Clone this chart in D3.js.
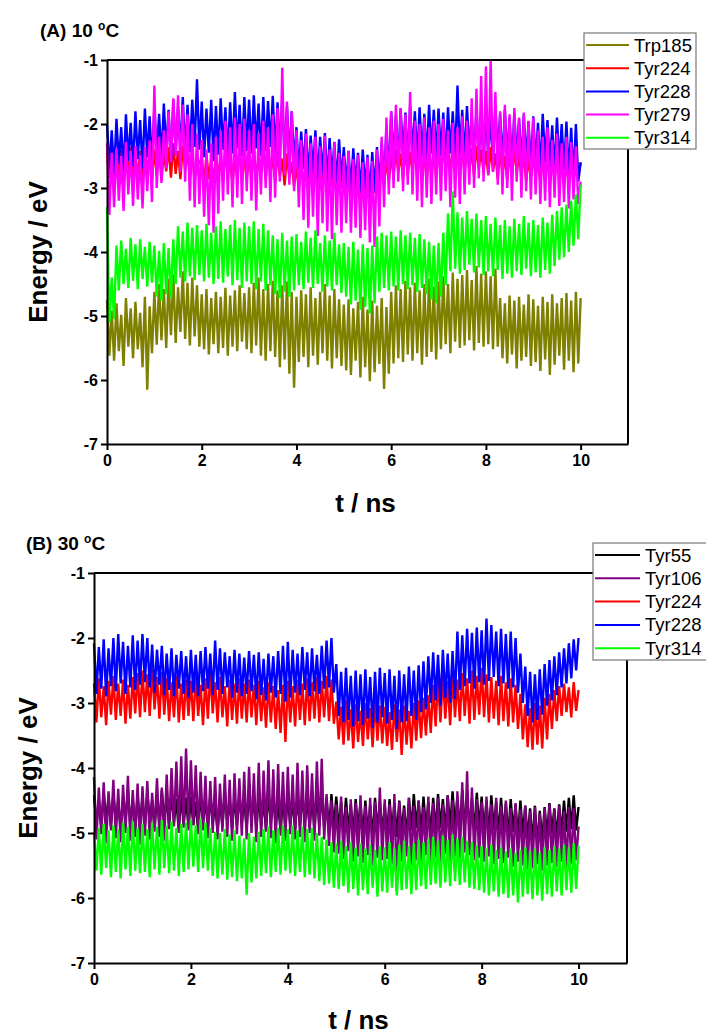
<!DOCTYPE html>
<html>
<head>
<meta charset="utf-8">
<script src="https://cdn.jsdelivr.net/npm/d3@7"></script>
<style>
  body { margin: 0; background: #fff; }
  svg text { font-family: "Liberation Sans", Arial, sans-serif; }
</style>
</head>
<body>
<svg id="chart" width="706" height="1034"></svg>
<script>
// Sampling interval of the trajectories (ns); each series holds 201 samples, 0–10 ns
const timeStep = 0.05;
const xTicks = [0, 2, 4, 6, 8, 10];
const yTicks = [-1, -2, -3, -4, -5, -6, -7];

// ---- (A) 10 °C ----
const namesA = ["Trp185", "Tyr224", "Tyr228", "Tyr279", "Tyr314"];
const colorsA = ["#808000", "#ff0000", "#0000ff", "#ff00ff", "#00ff00"];

const trp185A = [
  -4.75,-5.62,-4.92,-5.70,-4.80,-5.55,-4.98,-5.78,-4.72,-5.48,-4.88,-5.66,-4.78,-5.52,-4.95,-5.80,-4.70,-6.15,-4.85,-5.58,
  -4.62,-5.45,-4.50,-5.38,-4.58,-5.50,-4.42,-5.30,-4.35,-5.42,-4.55,-5.25,-4.30,-5.36,-4.48,-5.46,-4.40,-5.32,-4.52,-5.48,
  -4.66,-5.52,-4.58,-5.60,-4.72,-5.44,-4.62,-5.58,-4.70,-5.50,-4.56,-5.62,-4.68,-5.48,-4.60,-5.55,-4.52,-5.40,-4.64,-5.52,
  -4.55,-5.58,-4.48,-5.46,-4.40,-5.62,-4.58,-5.70,-4.50,-5.55,-4.45,-5.64,-4.60,-5.80,-4.52,-5.68,-4.46,-5.90,-4.62,-6.12,
  -4.70,-5.72,-4.60,-5.64,-4.66,-5.80,-4.55,-5.62,-4.72,-5.76,-4.62,-5.58,-4.50,-5.70,-4.68,-5.82,-4.58,-5.66,-4.74,-5.78,
  -4.82,-5.85,-4.74,-5.92,-4.88,-5.70,-4.78,-5.96,-4.70,-5.80,-4.90,-6.02,-4.76,-5.88,-4.84,-5.75,-4.72,-6.14,-4.86,-5.90,
  -4.62,-5.74,-4.52,-5.66,-4.58,-5.72,-4.45,-5.60,-4.55,-5.70,-4.48,-5.58,-4.60,-5.76,-4.50,-5.64,-4.42,-5.56,-4.54,-5.68,
  -4.46,-5.52,-4.38,-5.44,-4.50,-5.58,-4.32,-5.40,-4.42,-5.50,-4.36,-5.46,-4.28,-5.38,-4.44,-5.54,-4.22,-5.42,-4.34,-5.48,
  -4.30,-5.44,-4.38,-5.52,-4.26,-5.48,-4.72,-5.66,-4.80,-5.74,-4.68,-5.60,-4.76,-5.82,-4.70,-5.70,-4.82,-5.64,-4.66,-5.78,
  -4.74,-5.72,-4.84,-5.86,-4.70,-5.68,-4.78,-5.92,-4.66,-5.76,-4.80,-5.62,-4.72,-5.84,-4.64,-5.70,-4.76,-5.88,-4.62,-5.74,
  -4.72
];
const tyr224A = [
  -2.45,-2.85,-2.38,-2.92,-2.50,-2.80,-2.40,-2.95,-2.48,-2.78,-2.36,-2.88,-2.52,-2.82,-2.42,-2.90,-2.46,-2.76,-2.38,-2.86,
  -2.40,-2.80,-2.32,-2.88,-2.44,-2.74,-2.36,-2.84,-2.30,-2.78,-2.42,-2.86,-2.34,-2.70,-2.46,-2.82,-2.38,-2.90,-2.50,-2.62,
  -2.55,-2.95,-2.48,-2.86,-2.58,-2.92,-2.45,-2.84,-2.52,-2.90,-2.42,-2.80,-2.56,-2.94,-2.48,-2.86,-2.40,-2.78,-2.54,-2.88,
  -2.46,-2.84,-2.38,-2.90,-2.50,-2.78,-2.40,-2.86,-2.36,-2.80,-2.48,-2.92,-2.42,-2.82,-2.54,-2.96,-2.46,-2.84,-2.60,-2.98,
  -2.65,-3.02,-2.58,-2.94,-2.68,-3.06,-2.60,-2.96,-2.72,-3.00,-2.62,-2.92,-2.70,-3.04,-2.64,-2.98,-2.76,-3.08,-2.68,-3.00,
  -2.74,-3.06,-2.80,-3.12,-2.72,-3.04,-2.84,-3.16,-2.78,-3.10,-2.86,-3.18,-2.76,-3.08,-2.70,-3.00,-2.62,-2.94,-2.56,-2.90,
  -2.48,-2.82,-2.40,-2.76,-2.46,-2.86,-2.38,-2.80,-2.44,-2.74,-2.36,-2.84,-2.42,-2.78,-2.50,-2.88,-2.40,-2.80,-2.46,-2.84,
  -2.38,-2.76,-2.32,-2.70,-2.40,-2.80,-2.34,-2.72,-2.28,-2.68,-2.36,-2.78,-2.30,-2.74,-2.38,-2.82,-2.34,-2.70,-2.40,-2.76,
  -2.42,-2.80,-2.36,-2.74,-2.46,-2.86,-2.40,-2.78,-2.50,-2.88,-2.44,-2.82,-2.38,-2.76,-2.48,-2.84,-2.42,-2.90,-2.52,-2.86,
  -2.46,-2.84,-2.54,-2.92,-2.48,-2.80,-2.56,-2.94,-2.50,-2.86,-2.44,-2.80,-2.52,-2.90,-2.58,-2.96,-2.50,-2.88,-2.40,-2.82,
  -2.60
];
const tyr228A = [
  -2.00,-2.70,-2.10,-2.78,-1.92,-2.62,-2.05,-2.74,-1.85,-2.58,-1.98,-2.66,-1.80,-2.55,-1.94,-2.70,-1.76,-2.52,-1.88,-2.64,
  -1.72,-2.48,-1.84,-2.56,-1.68,-2.42,-1.78,-2.60,-1.62,-2.46,-1.74,-2.38,-1.58,-2.50,-1.70,-2.44,-1.62,-2.36,-1.30,-2.40,
  -1.65,-2.52,-1.76,-2.45,-1.62,-2.58,-1.72,-2.48,-1.60,-2.40,-1.74,-2.54,-1.66,-2.46,-1.50,-2.38,-1.70,-2.50,-1.58,-2.42,
  -1.62,-2.46,-1.55,-2.38,-1.68,-2.50,-1.58,-2.42,-1.64,-2.36,-1.56,-2.48,-1.66,-2.40,-1.60,-2.52,-1.72,-2.56,-1.80,-2.62,
  -2.05,-2.78,-2.12,-2.70,-2.08,-2.84,-2.18,-2.76,-2.10,-2.88,-2.20,-2.80,-2.14,-2.92,-2.22,-2.86,-2.28,-2.96,-2.24,-2.90,
  -2.36,-2.98,-2.42,-3.04,-2.38,-2.96,-2.45,-3.08,-2.40,-3.02,-2.48,-3.14,-2.44,-3.06,-2.36,-2.98,-2.28,-2.92,-2.05,-2.80,
  -1.80,-2.56,-1.86,-2.62,-1.76,-2.50,-1.82,-2.58,-1.72,-2.48,-1.80,-2.60,-1.74,-2.52,-1.84,-2.56,-1.70,-2.46,-1.78,-2.54,
  -1.76,-2.50,-1.82,-2.58,-1.74,-2.46,-1.80,-2.54,-1.40,-2.48,-1.78,-2.56,-1.72,-2.44,-1.84,-2.60,-1.76,-2.50,-1.86,-2.62,
  -1.80,-2.52,-1.88,-2.58,-1.76,-2.48,-1.84,-2.62,-1.78,-2.54,-1.90,-2.66,-1.82,-2.56,-1.92,-2.64,-1.86,-2.58,-1.96,-2.70,
  -1.88,-2.62,-1.98,-2.72,-1.84,-2.60,-1.94,-2.68,-2.02,-2.76,-1.90,-2.64,-2.00,-2.74,-1.96,-2.80,-2.06,-2.86,-2.00,-2.90,
  -2.60
];
const tyr279A = [
  -2.30,-3.42,-2.45,-3.30,-2.38,-3.20,-2.50,-3.36,-2.28,-3.10,-2.42,-3.28,-2.34,-3.18,-2.48,-3.32,-2.36,-3.05,-2.26,-3.22,
  -1.40,-3.00,-2.20,-2.92,-2.10,-2.70,-1.80,-2.60,-1.60,-2.50,-1.55,-2.75,-1.70,-2.90,-1.85,-3.20,-2.00,-3.30,-2.15,-3.25,
  -2.25,-3.45,-2.40,-3.58,-2.30,-3.70,-2.20,-3.40,-2.10,-3.20,-1.95,-3.10,-2.05,-3.30,-1.90,-3.15,-2.00,-3.25,-1.92,-3.05,
  -2.10,-3.20,-2.00,-3.35,-2.15,-3.10,-1.95,-3.00,-2.05,-3.22,-1.85,-3.15,-1.75,-2.90,-1.12,-2.80,-1.65,-2.95,-1.80,-3.05,
  -2.10,-3.30,-2.25,-3.50,-2.15,-3.62,-2.30,-3.45,-2.20,-3.75,-2.35,-3.55,-2.18,-3.68,-2.40,-3.80,-2.28,-3.58,-2.45,-3.70,
  -2.50,-3.55,-2.42,-3.70,-2.55,-3.62,-2.48,-3.78,-2.60,-3.66,-2.52,-3.85,-2.58,-3.92,-2.40,-3.60,-2.20,-3.30,-1.90,-3.10,
  -1.80,-3.00,-1.70,-2.90,-1.75,-3.05,-1.85,-2.95,-1.50,-3.10,-1.95,-3.20,-2.00,-3.30,-1.90,-3.15,-2.05,-3.25,-1.95,-3.10,
  -2.00,-3.20,-1.92,-3.05,-2.10,-3.30,-1.98,-3.15,-2.05,-3.25,-1.88,-3.10,-1.95,-2.95,-1.60,-3.00,-1.45,-2.85,-1.25,-2.90,
  -1.10,-2.80,-1.00,-2.75,-1.50,-2.95,-1.80,-3.10,-1.70,-3.00,-1.85,-3.20,-1.75,-2.90,-1.90,-3.15,-1.82,-3.05,-1.95,-3.18,
  -1.90,-3.10,-2.10,-3.25,-2.20,-3.20,-2.05,-3.30,-2.25,-3.15,-2.15,-3.28,-2.30,-3.22,-2.20,-3.32,-2.28,-3.18,-2.35,-3.25,
  -2.90
];
const tyr314A = [
  -3.30,-5.10,-4.40,-5.05,-3.90,-4.60,-3.82,-4.50,-3.95,-4.56,-3.78,-4.45,-3.88,-4.58,-3.80,-4.42,-3.92,-4.54,-3.84,-4.48,
  -3.90,-4.70,-3.98,-4.76,-3.86,-4.66,-3.94,-4.72,-3.80,-4.50,-3.60,-4.40,-3.68,-4.46,-3.54,-4.38,-3.62,-4.44,-3.58,-4.36,
  -3.66,-4.46,-3.56,-4.40,-3.70,-4.50,-3.60,-4.42,-3.52,-4.48,-3.64,-4.38,-3.58,-4.52,-3.50,-4.44,-3.62,-4.56,-3.54,-4.46,
  -3.60,-4.50,-3.52,-4.58,-3.64,-4.46,-3.56,-4.60,-3.66,-4.52,-3.74,-4.66,-3.80,-4.72,-3.70,-4.62,-3.82,-4.70,-3.76,-4.60,
  -3.72,-4.52,-3.84,-4.58,-3.68,-4.48,-3.78,-4.56,-3.66,-4.50,-3.86,-4.62,-3.74,-4.54,-3.82,-4.60,-3.70,-4.52,-3.88,-4.64,
  -3.86,-4.70,-3.92,-4.82,-3.84,-4.76,-3.96,-4.90,-3.88,-4.86,-3.94,-4.96,-3.90,-4.80,-3.76,-4.62,-3.70,-4.56,-3.74,-4.60,
  -3.68,-4.54,-3.76,-4.60,-3.66,-4.50,-3.74,-4.58,-3.70,-4.52,-3.78,-4.62,-3.72,-4.56,-3.80,-4.66,-3.84,-4.74,-3.90,-4.80,
  -3.86,-4.70,-3.70,-4.52,-3.40,-4.30,-3.05,-4.26,-3.38,-4.34,-3.46,-4.28,-3.36,-4.20,-3.48,-4.32,-3.40,-4.24,-3.50,-4.36,
  -3.44,-4.30,-3.56,-4.38,-3.46,-4.28,-3.58,-4.42,-3.50,-4.34,-3.60,-4.40,-3.48,-4.30,-3.56,-4.36,-3.44,-4.26,-3.54,-4.38,
  -3.50,-4.32,-3.58,-4.40,-3.46,-4.28,-3.54,-4.34,-3.42,-4.22,-3.36,-4.12,-3.30,-4.08,-3.26,-4.00,-3.20,-3.90,-3.10,-3.80,
  -2.95
];

// ---- (B) 30 °C ----
const namesB = ["Tyr55", "Tyr106", "Tyr224", "Tyr228", "Tyr314"];
const colorsB = ["#000000", "#800080", "#ff0000", "#0000ff", "#00ff00"];

const tyr55B = [
  -4.42,-4.86,-4.50,-4.92,-4.38,-4.80,-4.46,-4.90,-4.40,-4.84,-4.52,-4.94,-4.44,-4.82,-4.36,-4.88,-4.48,-4.96,-4.42,-4.86,
  -4.46,-4.90,-4.38,-4.82,-4.50,-4.94,-4.40,-4.86,-4.34,-4.80,-4.44,-4.92,-4.36,-4.84,-4.48,-4.98,-4.40,-4.88,-4.46,-4.92,
  -4.44,-4.88,-4.52,-4.96,-4.40,-4.84,-4.48,-4.92,-4.42,-4.86,-4.54,-4.98,-4.46,-4.90,-4.38,-4.84,-4.50,-4.94,-4.44,-4.88,
  -4.40,-4.86,-4.48,-4.92,-4.36,-4.82,-4.46,-4.94,-4.42,-4.88,-4.50,-4.96,-4.38,-4.84,-4.44,-4.90,-4.52,-4.98,-4.46,-4.92,
  -4.42,-4.88,-4.50,-4.94,-4.46,-4.90,-4.40,-4.86,-4.48,-4.92,-4.44,-4.96,-4.36,-4.90,-4.38,-4.92,-4.46,-4.98,-4.40,-4.94,
  -4.44,-4.96,-4.52,-5.02,-4.46,-4.98,-4.56,-5.04,-4.48,-4.94,-4.54,-5.06,-4.50,-5.00,-4.58,-5.08,-4.46,-4.98,-4.52,-5.02,
  -4.56,-5.04,-4.48,-4.98,-4.54,-5.06,-4.50,-5.00,-4.58,-5.08,-4.46,-4.96,-4.40,-4.92,-4.50,-5.02,-4.44,-4.96,-4.52,-5.04,
  -4.46,-4.98,-4.40,-4.92,-4.48,-5.00,-4.42,-4.94,-4.36,-4.90,-4.44,-4.98,-4.34,-4.92,-4.40,-4.96,-4.46,-5.00,-4.38,-4.94,
  -4.44,-4.98,-4.50,-5.04,-4.42,-4.96,-4.52,-5.02,-4.46,-5.00,-4.54,-5.06,-4.48,-4.98,-4.56,-5.08,-4.50,-5.04,-4.58,-5.10,
  -4.62,-5.16,-4.58,-5.20,-4.66,-5.12,-4.60,-5.06,-4.54,-5.00,-4.62,-5.08,-4.56,-5.02,-4.50,-4.98,-4.46,-4.94,-4.42,-4.96,
  -4.60
];
const tyr106B = [
  -4.14,-5.10,-4.30,-5.02,-4.22,-5.16,-4.36,-4.96,-4.18,-5.08,-4.32,-5.14,-4.26,-5.00,-4.12,-5.12,-4.34,-5.06,-4.24,-5.18,
  -4.28,-5.04,-4.20,-5.10,-4.38,-4.98,-4.16,-5.06,-4.30,-5.12,-4.10,-4.94,-4.00,-4.90,-3.90,-5.00,-3.82,-4.92,-3.70,-4.96,
  -3.88,-4.88,-3.96,-5.02,-4.06,-4.96,-4.12,-5.08,-4.20,-5.00,-4.14,-5.10,-4.24,-4.98,-4.10,-5.06,-4.18,-5.12,-4.08,-5.02,
  -4.16,-5.04,-4.06,-5.10,-3.98,-5.00,-4.08,-5.14,-3.92,-5.06,-4.04,-4.98,-3.88,-5.08,-4.02,-5.16,-3.94,-5.04,-4.06,-5.12,
  -3.98,-5.02,-4.10,-5.10,-3.92,-5.06,-4.04,-5.14,-3.96,-5.00,-4.08,-5.12,-3.90,-5.04,-3.86,-5.10,-4.40,-5.20,-4.50,-5.30,
  -4.56,-5.32,-4.44,-5.40,-4.60,-5.28,-4.48,-5.44,-4.54,-5.36,-4.42,-5.46,-4.58,-5.34,-4.46,-5.50,-4.52,-5.38,-4.30,-5.42,
  -4.48,-5.40,-4.56,-5.48,-4.40,-5.90,-4.52,-5.44,-4.62,-5.36,-4.46,-5.50,-4.58,-5.42,-4.50,-5.46,-4.60,-5.34,-4.44,-5.48,
  -4.54,-5.38,-4.46,-5.44,-4.56,-5.32,-4.42,-5.46,-4.50,-5.36,-4.36,-5.40,-4.22,-5.30,-4.05,-5.34,-4.30,-5.42,-4.48,-5.38,
  -4.52,-5.44,-4.44,-5.36,-4.56,-5.48,-4.46,-5.40,-4.58,-5.46,-4.50,-5.38,-4.62,-5.52,-4.54,-5.44,-4.64,-5.50,-4.58,-5.56,
  -4.66,-5.54,-4.60,-5.48,-4.70,-5.58,-4.62,-5.50,-4.56,-5.46,-4.64,-5.52,-4.58,-5.44,-4.66,-5.56,-4.60,-5.48,-4.62,-5.42,
  -4.90
];
const tyr224B = [
  -2.70,-3.30,-2.62,-3.22,-2.74,-3.34,-2.66,-3.18,-2.58,-3.26,-2.70,-3.20,-2.64,-3.32,-2.72,-3.24,-2.60,-3.16,-2.54,-3.22,
  -2.50,-3.14,-2.56,-3.20,-2.48,-3.10,-2.60,-3.24,-2.52,-3.18,-2.62,-3.28,-2.68,-3.22,-2.58,-3.30,-2.70,-3.26,-2.64,-3.20,
  -2.66,-3.28,-2.58,-3.20,-2.72,-3.34,-2.62,-3.24,-2.52,-3.16,-2.68,-3.30,-2.60,-3.22,-2.74,-3.36,-2.64,-3.26,-2.70,-3.32,
  -2.62,-3.24,-2.70,-3.30,-2.64,-3.22,-2.72,-3.34,-2.66,-3.28,-2.76,-3.38,-2.68,-3.30,-2.74,-3.40,-2.80,-3.46,-2.72,-3.60,
  -2.66,-3.30,-2.74,-3.36,-2.64,-3.26,-2.70,-3.34,-2.62,-3.28,-2.68,-3.24,-2.60,-3.30,-2.66,-3.22,-2.58,-3.28,-2.64,-3.32,
  -2.98,-3.56,-3.06,-3.64,-2.96,-3.58,-3.10,-3.70,-3.02,-3.60,-3.12,-3.66,-3.00,-3.56,-3.08,-3.68,-2.94,-3.58,-3.04,-3.62,
  -3.06,-3.66,-3.14,-3.72,-3.02,-3.60,-3.10,-3.80,-3.04,-3.64,-3.12,-3.70,-3.00,-3.58,-2.96,-3.54,-2.92,-3.50,-2.88,-3.46,
  -2.72,-3.36,-2.62,-3.30,-2.58,-3.24,-2.66,-3.34,-2.56,-3.22,-2.64,-3.28,-2.54,-3.20,-2.62,-3.32,-2.50,-3.26,-2.58,-3.18,
  -2.46,-3.22,-2.56,-3.30,-2.60,-3.24,-2.66,-3.34,-2.58,-3.28,-2.68,-3.36,-2.62,-3.30,-2.72,-3.40,-2.86,-3.56,-3.02,-3.68,
  -3.08,-3.72,-3.00,-3.64,-3.04,-3.70,-2.92,-3.56,-2.86,-3.40,-2.80,-3.28,-2.74,-3.20,-2.70,-3.14,-2.76,-3.22,-2.68,-3.12,
  -2.80
];
const tyr228B = [
  -2.08,-2.86,-2.14,-2.78,-2.02,-2.90,-2.16,-2.74,-2.00,-2.82,-1.94,-2.70,-2.06,-2.86,-2.12,-2.76,-1.96,-2.80,-2.04,-2.72,
  -1.94,-2.68,-2.00,-2.76,-2.10,-2.84,-2.18,-2.72,-2.12,-2.88,-2.24,-2.80,-2.16,-2.90,-2.26,-2.78,-2.20,-2.86,-2.28,-2.92,
  -2.18,-2.84,-2.26,-2.90,-2.20,-2.82,-2.14,-2.78,-2.24,-2.88,-2.04,-2.80,-2.16,-2.86,-2.22,-2.76,-2.28,-2.92,-2.18,-2.84,
  -2.24,-2.90,-2.30,-2.86,-2.20,-2.82,-2.26,-2.94,-2.22,-2.88,-2.32,-2.96,-2.24,-2.84,-2.28,-2.92,-2.20,-2.86,-2.12,-2.98,
  -2.06,-2.92,-2.18,-2.84,-2.24,-2.88,-2.14,-2.80,-2.22,-2.90,-2.16,-2.82,-2.26,-2.86,-2.12,-2.78,-2.04,-2.76,-2.00,-2.84,
  -2.40,-3.20,-2.52,-3.30,-2.46,-3.26,-2.58,-3.36,-2.50,-3.28,-2.56,-3.34,-2.48,-3.24,-2.60,-3.38,-2.52,-3.30,-2.46,-3.22,
  -2.54,-3.32,-2.48,-3.26,-2.58,-3.40,-2.50,-3.30,-2.56,-3.28,-2.44,-3.20,-2.50,-3.26,-2.42,-3.14,-2.36,-3.10,-2.28,-3.00,
  -2.22,-2.96,-2.26,-3.04,-2.18,-2.92,-2.24,-3.00,-2.20,-2.94,-1.90,-2.80,-1.96,-2.74,-1.86,-2.70,-1.92,-2.78,-1.84,-2.68,
  -1.88,-2.72,-1.70,-2.66,-1.80,-2.60,-1.90,-2.74,-1.86,-2.70,-1.94,-2.78,-1.90,-2.76,-2.00,-2.84,-2.24,-3.00,-2.44,-3.20,
  -2.52,-3.30,-2.56,-3.26,-2.48,-3.18,-2.40,-3.04,-2.34,-2.96,-2.28,-2.88,-2.22,-2.76,-2.16,-2.70,-2.08,-2.62,-2.02,-2.50,
  -2.00
];
const tyr314B = [
  -5.00,-5.58,-4.92,-5.64,-4.86,-5.54,-4.96,-5.68,-4.88,-5.60,-4.94,-5.70,-4.84,-5.56,-4.90,-5.66,-4.82,-5.58,-4.92,-5.62,
  -4.86,-5.60,-4.94,-5.68,-4.84,-5.56,-4.90,-5.64,-4.80,-5.54,-4.88,-5.62,-4.82,-5.58,-4.92,-5.66,-4.86,-5.60,-4.84,-5.56,
  -4.80,-5.52,-4.88,-5.60,-4.78,-5.54,-4.84,-5.58,-4.92,-5.66,-4.98,-5.70,-5.00,-5.64,-4.94,-5.72,-5.02,-5.68,-4.96,-5.74,
  -5.04,-5.70,-5.08,-5.95,-5.00,-5.76,-5.06,-5.70,-4.98,-5.66,-4.94,-5.62,-4.90,-5.68,-4.96,-5.60,-4.92,-5.64,-4.88,-5.58,
  -4.94,-5.62,-4.88,-5.66,-4.96,-5.60,-4.90,-5.68,-4.94,-5.64,-4.92,-5.70,-5.00,-5.74,-5.06,-5.80,-5.10,-5.78,-5.14,-5.84,
  -5.16,-5.86,-5.12,-5.82,-5.20,-5.92,-5.14,-5.86,-5.22,-5.96,-5.16,-5.88,-5.24,-5.94,-5.18,-5.84,-5.26,-5.98,-5.20,-5.90,
  -5.22,-5.92,-5.14,-5.84,-5.24,-5.96,-5.18,-5.88,-5.12,-5.86,-5.20,-5.94,-5.16,-5.88,-5.10,-5.82,-5.14,-5.86,-5.08,-5.80,
  -5.06,-5.78,-5.12,-5.84,-5.04,-5.76,-5.10,-5.82,-5.02,-5.74,-5.08,-5.80,-5.06,-5.76,-5.12,-5.84,-5.14,-5.86,-5.18,-5.88,
  -5.20,-5.92,-5.24,-5.96,-5.18,-5.90,-5.26,-5.98,-5.22,-5.94,-5.28,-6.00,-5.24,-5.96,-5.30,-6.07,-5.26,-5.98,-5.22,-5.94,
  -5.28,-6.02,-5.24,-5.96,-5.30,-6.04,-5.22,-5.94,-5.26,-5.98,-5.20,-5.90,-5.24,-5.96,-5.18,-5.88,-5.22,-5.92,-5.16,-5.86,
  -5.20
];

// ---- drawing ----
const svg = d3.select("#chart");

const panels = [
  {
    label: "(A) 10 ", labelX: 40, labelY: 37,
    left: 107, right: 628, top: 60, bottom: 444,
    yTitleX: 38, xTitleY: 512,
    legend: { x: 584, y: 33, w: 112, h: 116, row0: 45, rowGap: 23.2, lineX0: 586, lineX1: 629, textX: 634 },
    names: namesA, colors: colorsA,
    values: [trp185A, tyr224A, tyr228A, tyr279A, tyr314A]
  },
  {
    label: "(B) 30 ", labelX: 26, labelY: 550,
    left: 94, right: 627, top: 573, bottom: 963,
    yTitleX: 28, xTitleY: 1029,
    legend: { x: 593, y: 543, w: 118, h: 117, row0: 555, rowGap: 23.3, lineX0: 595, lineX1: 640, textX: 645 },
    names: namesB, colors: colorsB,
    values: [tyr55B, tyr106B, tyr224B, tyr228B, tyr314B]
  }
];

const tickFont = '"Liberation Sans Narrow", "Arial Narrow", "Liberation Sans", Arial, sans-serif';

panels.forEach(p => {
  const x = d3.scaleLinear().domain([0, 11]).range([p.left, p.right]);
  const y = d3.scaleLinear().domain([-7, -1]).range([p.bottom, p.top]);
  const g = svg.append("g");

  // traces, in legend order (later ones on top)
  const line = d3.line()
    .x((d, i) => x(i * timeStep))
    .y(d => y(d));
  p.values.forEach((vals, k) => {
    g.append("path")
      .datum(vals)
      .attr("d", line)
      .attr("fill", "none")
      .attr("stroke", p.colors[k])
      .attr("stroke-width", 2.4)
      .attr("stroke-linejoin", "miter")
      .attr("stroke-miterlimit", 1.5);
  });

  // frame: top and right edges
  g.append("path")
    .attr("d", `M${x(0)},${y(-1)}H${x(11)}V${y(-7)}`)
    .attr("fill", "none").attr("stroke", "#000").attr("stroke-width", 2);

  // axes
  const yAxis = g.append("g")
    .attr("transform", `translate(${x(0)},0)`)
    .call(d3.axisLeft(y).tickValues(yTicks).tickSize(6).tickSizeOuter(0).tickPadding(3)
      .tickFormat(d => String(d)));
  const xAxis = g.append("g")
    .attr("transform", `translate(0,${y(-7)})`)
    .call(d3.axisBottom(x).tickValues(xTicks).tickSize(6).tickSizeOuter(0).tickPadding(5)
      .tickFormat(d => String(d)));
  [yAxis, xAxis].forEach(a => {
    a.select(".domain").attr("stroke", "#000").attr("stroke-width", 2);
    a.selectAll(".tick line").attr("stroke", "#000").attr("stroke-width", 2);
    a.selectAll(".tick text")
      .attr("fill", "#000")
      .style("font-family", tickFont)
      .style("font-weight", "bold")
      .style("font-size", "16px");
  });

  // axis titles
  g.append("text")
    .attr("transform", `translate(${p.yTitleX},${(p.top + p.bottom) / 2}) rotate(-90)`)
    .attr("text-anchor", "middle")
    .attr("dominant-baseline", "central")
    .style("font-weight", "bold").style("font-size", "26px")
    .text("Energy / eV");
  g.append("text")
    .attr("x", (x(0) + x(11)) / 2 - 2)
    .attr("y", p.xTitleY)
    .attr("text-anchor", "middle")
    .style("font-weight", "bold").style("font-size", "26px")
    .text("t / ns");

  // panel label with degree sign as superscript o
  const lab = g.append("text")
    .attr("x", p.labelX).attr("y", p.labelY)
    .style("font-weight", "bold").style("font-size", "19px");
  lab.append("tspan").text(p.label);
  lab.append("tspan").attr("dy", -7).style("font-size", "12px").text("o");
  lab.append("tspan").attr("dy", 7).text("C");

  // legend
  const L = p.legend;
  const lg = g.append("g");
  lg.append("rect")
    .attr("x", L.x).attr("y", L.y).attr("width", L.w).attr("height", L.h)
    .attr("fill", "#fff").attr("stroke", "#777").attr("stroke-width", 1.2);
  p.names.forEach((name, k) => {
    const ry = L.row0 + k * L.rowGap;
    lg.append("line")
      .attr("x1", L.lineX0).attr("x2", L.lineX1)
      .attr("y1", ry).attr("y2", ry)
      .attr("stroke", p.colors[k]).attr("stroke-width", 2);
    lg.append("text")
      .attr("x", L.textX).attr("y", ry)
      .attr("dominant-baseline", "central")
      .style("font-size", "18.5px")
      .text(name);
  });
});
</script>
</body>
</html>
